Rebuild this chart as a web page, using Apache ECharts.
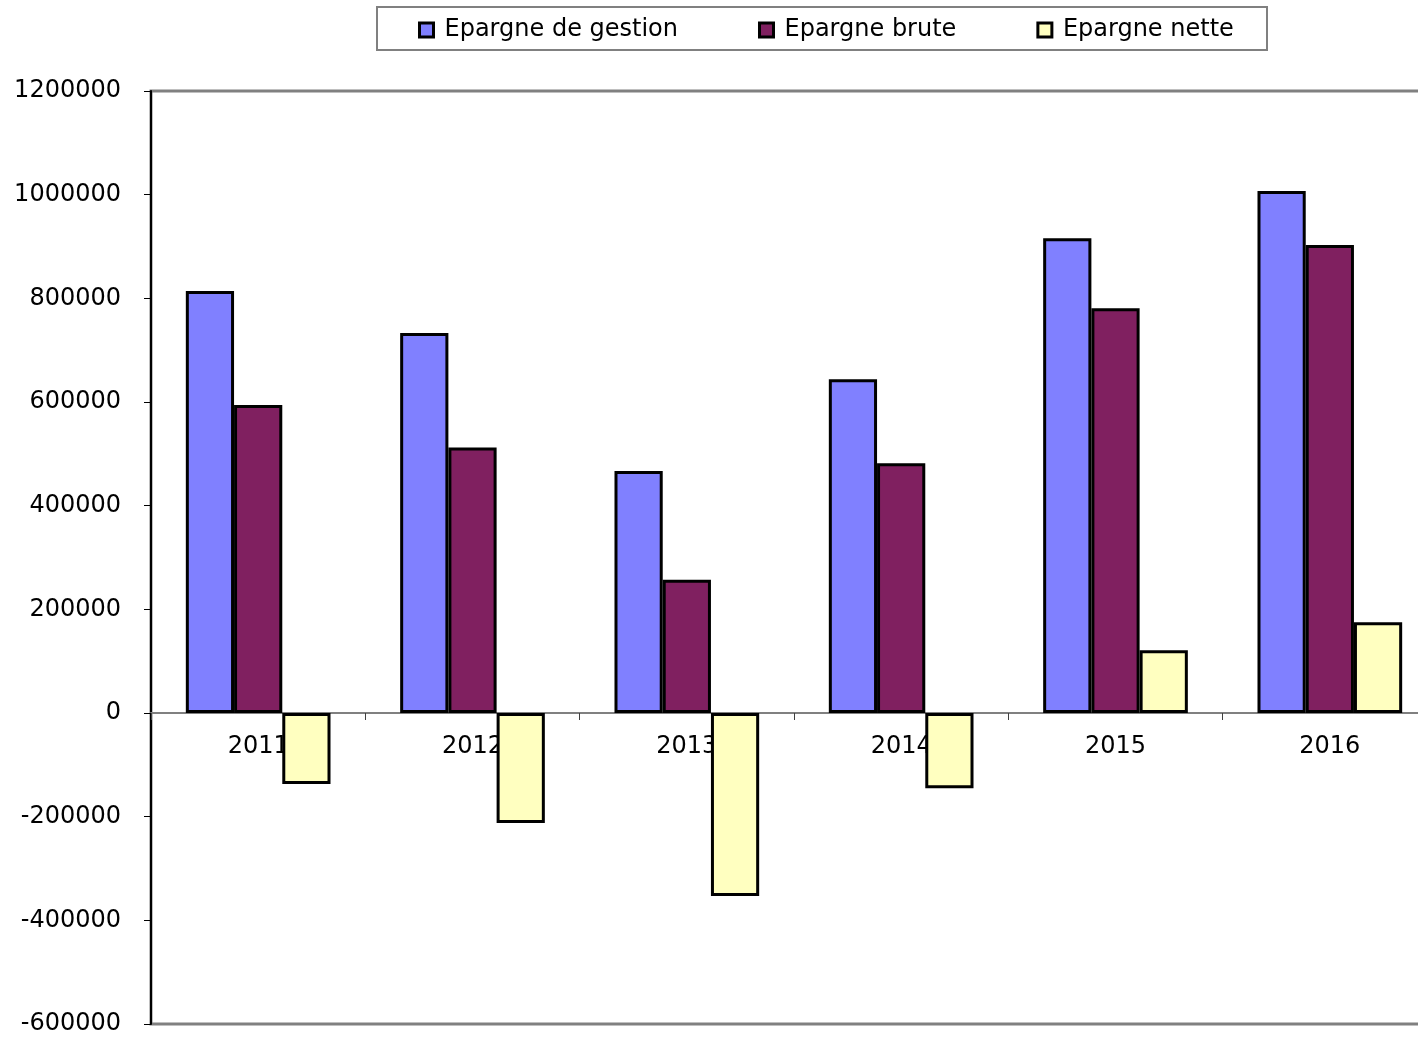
<!DOCTYPE html>
<html>
<head>
<meta charset="utf-8">
<script src="https://cdn.jsdelivr.net/npm/echarts@6/dist/echarts.min.js"></script>
<style>
  html, body { margin: 0; padding: 0; background: #ffffff; }
  #chart { width: 1418px; height: 1037px; }
</style>
</head>
<body>
<div id="chart"></div>
<script>
// Années
const years = ['2011', '2012', '2013', '2014', '2015', '2016'];

// Séries d'épargne (en euros)
const epargneGestion = [814000, 733000, 467000, 644000, 916000, 1007000];
const epargneBrute   = [594000, 512000, 257000, 482000, 781000, 903000];
const epargneNette   = [-137000, -212000, -353000, -145000, 121000, 175000];

// Axe des valeurs
const yMin = -600000;
const yMax = 1200000;
const yStep = 200000;

const seriesNames = ['Epargne de gestion', 'Epargne brute', 'Epargne nette'];
const seriesColors = ['#8080FF', '#802060', '#FFFFC0'];
const seriesData = [epargneGestion, epargneBrute, epargneNette];

const font = 'DejaVu Sans';

// Zone de tracé (elle déborde à droite du cadre)
const gridLeft = 151, gridTop = 91, gridWidth = 1286, gridHeight = 933;
// Décalage de l'axe des catégories pour le placer sur la ligne du zéro
const zeroOffset = gridHeight * (0 - yMin) / (yMax - yMin);

const chart = echarts.init(document.getElementById('chart'), null, { renderer: 'canvas' });

chart.setOption({
  backgroundColor: '#ffffff',
  animation: false,
  textStyle: { fontFamily: font },
  graphic: [{
    type: 'rect',
    shape: { x: 377, y: 7, width: 890, height: 43 },
    style: { fill: '#ffffff', stroke: '#808080', lineWidth: 2 },
    z: 0
  }],
  legend: {
    top: 18,
    left: 418,
    itemWidth: 14,
    itemHeight: 14,
    itemGap: 80,
    padding: 0,
    textStyle: { fontFamily: font, fontSize: 24, lineHeight: 24, color: '#000000', padding: [0, 0, 0, 6] },
    itemStyle: { borderColor: '#000000', borderWidth: 3 },
    data: seriesNames.map(n => ({ name: n, icon: 'rect' }))
  },
  grid: {
    left: gridLeft,
    top: gridTop,
    width: gridWidth,
    height: gridHeight,
    outerBoundsMode: 'none',
    show: true,
    borderColor: '#808080',
    borderWidth: 3,
    backgroundColor: 'transparent',
    containLabel: false
  },
  xAxis: {
    type: 'category',
    data: years,
    boundaryGap: true,
    position: 'bottom',
    offset: -zeroOffset,
    axisLine: { onZero: false, lineStyle: { color: '#808080', width: 2 } },
    axisTick: { show: true, inside: false, length: 7, alignWithLabel: false, lineStyle: { color: '#404040', width: 1 } },
    axisLabel: { fontFamily: font, fontSize: 24, color: '#000000', margin: 22 },
    splitLine: { show: false }
  },
  yAxis: {
    type: 'value',
    min: yMin,
    max: yMax,
    interval: yStep,
    axisLine: { show: true, lineStyle: { color: '#000000', width: 2 } },
    axisTick: { show: true, length: 7, lineStyle: { color: '#000000', width: 1 } },
    axisLabel: {
      fontFamily: font, fontSize: 24, color: '#000000', margin: 30,
      formatter: v => String(v)
    },
    splitLine: { show: false }
  },
  series: seriesNames.map((name, i) => ({
    name: name,
    type: 'bar',
    data: seriesData[i],
    barGap: '0%',
    barCategoryGap: '32.5%',
    itemStyle: { color: seriesColors[i], borderColor: '#000000', borderWidth: 3 },
    z: 3
  }))
});
</script>
</body>
</html>
